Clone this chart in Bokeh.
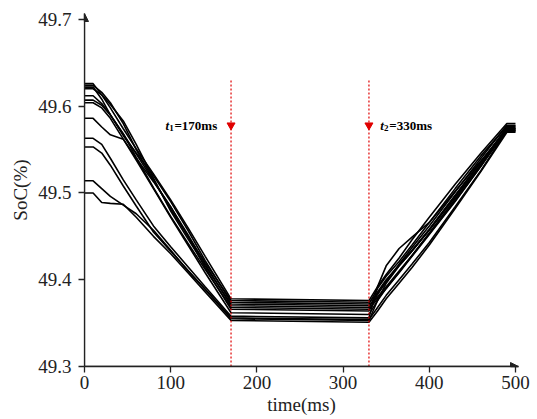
from bokeh.plotting import figure
from bokeh.models import Range1d, FixedTicker, Arrow, NormalHead, Label
from bokeh.embed import file_html
from bokeh.resources import INLINE

# ---- data ----
time_ms = [0, 10, 20, 30, 45, 60, 80, 100, 120, 140, 170,
           330, 340, 350, 365, 380, 400, 430, 460, 490, 500]

soc_1 = [49.626, 49.626, 49.613, 49.598, 49.574, 49.551, 49.522, 49.492, 49.460, 49.427, 49.378,
         49.376, 49.392, 49.406, 49.425, 49.446, 49.472, 49.510, 49.546, 49.580, 49.580]
soc_2 = [49.624, 49.624, 49.616, 49.604, 49.580, 49.550, 49.515, 49.481, 49.450, 49.420, 49.376,
         49.374, 49.384, 49.398, 49.418, 49.437, 49.462, 49.501, 49.540, 49.578, 49.578]
soc_3 = [49.622, 49.622, 49.608, 49.590, 49.566, 49.546, 49.520, 49.490, 49.457, 49.422, 49.374,
         49.372, 49.390, 49.404, 49.421, 49.440, 49.466, 49.505, 49.543, 49.577, 49.577]
soc_4 = [49.620, 49.620, 49.613, 49.602, 49.583, 49.556, 49.517, 49.479, 49.447, 49.416, 49.372,
         49.370, 49.380, 49.392, 49.410, 49.428, 49.454, 49.493, 49.533, 49.576, 49.576]
soc_5 = [49.612, 49.612, 49.603, 49.590, 49.568, 49.545, 49.514, 49.484, 49.452, 49.418, 49.370,
         49.368, 49.386, 49.400, 49.417, 49.434, 49.458, 49.497, 49.536, 49.575, 49.575]
soc_6 = [49.607, 49.607, 49.601, 49.590, 49.568, 49.541, 49.506, 49.473, 49.442, 49.412, 49.368,
         49.366, 49.378, 49.390, 49.408, 49.427, 49.452, 49.490, 49.531, 49.574, 49.574]
soc_7 = [49.604, 49.604, 49.598, 49.586, 49.562, 49.540, 49.513, 49.484, 49.450, 49.414, 49.366,
         49.364, 49.383, 49.398, 49.416, 49.433, 49.458, 49.497, 49.536, 49.574, 49.574]
soc_8 = [49.586, 49.586, 49.576, 49.567, 49.562, 49.538, 49.505, 49.472, 49.440, 49.408, 49.362,
         49.360, 49.376, 49.390, 49.409, 49.428, 49.453, 49.491, 49.531, 49.573, 49.573]
soc_9 = [49.563, 49.563, 49.556, 49.540, 49.515, 49.492, 49.462, 49.438, 49.415, 49.392, 49.358,
         49.356, 49.392, 49.416, 49.436, 49.449, 49.466, 49.502, 49.537, 49.572, 49.572]
soc_10 = [49.553, 49.553, 49.546, 49.532, 49.508, 49.485, 49.455, 49.433, 49.411, 49.389, 49.356,
          49.354, 49.368, 49.382, 49.400, 49.418, 49.443, 49.484, 49.526, 49.572, 49.572]
soc_11 = [49.514, 49.514, 49.505, 49.496, 49.486, 49.476, 49.457, 49.434, 49.410, 49.389, 49.355,
          49.353, 49.376, 49.396, 49.416, 49.433, 49.457, 49.495, 49.533, 49.571, 49.571]
soc_12 = [49.500, 49.500, 49.489, 49.488, 49.487, 49.472, 49.450, 49.430, 49.408, 49.386, 49.353,
          49.351, 49.364, 49.378, 49.396, 49.414, 49.440, 49.482, 49.525, 49.570, 49.570]

all_series = [soc_1, soc_2, soc_3, soc_4, soc_5, soc_6, soc_7, soc_8, soc_9, soc_10, soc_11, soc_12]

event_times = [170, 330]
event_names = ["1", "2"]
event_texts = ["=170ms", "=330ms"]

x_ticks = [0, 100, 200, 300, 400, 500]
y_ticks = [49.3, 49.4, 49.5, 49.6, 49.7]

FONT = "Liberation Serif"
X_END = 503.5
Y_END = 49.7068

p = figure(width=537, height=419, output_backend="svg", toolbar_location=None,
           x_range=Range1d(0, X_END), y_range=Range1d(49.3, Y_END),
           min_border_left=84, min_border_right=19, min_border_top=13, min_border_bottom=53)
p.outline_line_color = None
p.xgrid.visible = False
p.ygrid.visible = False
p.background_fill_color = "white"
p.border_fill_color = "white"

for ax in (p.xaxis[0], p.yaxis[0]):
    ax.axis_line_color = "#222222"
    ax.axis_line_width = 1.3
    ax.major_tick_line_color = "#222222"
    ax.major_tick_line_width = 1.3
    ax.major_tick_in = 0
    ax.major_tick_out = 6
    ax.minor_tick_line_color = None
    ax.major_label_text_font = FONT
    ax.major_label_text_font_size = "19px"
    ax.major_label_text_color = "#222222"
    ax.axis_label_text_font = FONT
    ax.axis_label_text_font_size = "19px"
    ax.axis_label_text_font_style = "normal"
    ax.axis_label_text_color = "#222222"

p.xaxis.ticker = FixedTicker(ticks=x_ticks)
p.yaxis.ticker = FixedTicker(ticks=y_ticks)
p.xaxis.axis_label = "time(ms)"
p.yaxis.axis_label = "SoC(%)"
p.xaxis.major_label_standoff = 3
p.xaxis.axis_label_standoff = 2
p.yaxis.major_label_standoff = 7
p.yaxis.axis_label_standoff = 4

# axis arrows
p.add_layout(Arrow(end=NormalHead(size=8, fill_color="#222222", line_color="#222222"),
                   x_start=0, y_start=49.3, x_end=0, y_end=Y_END,
                   line_color="#222222", line_width=1.3))
p.add_layout(Arrow(end=NormalHead(size=8, fill_color="#222222", line_color="#222222"),
                   x_start=0, y_start=49.3, x_end=X_END, y_end=49.3,
                   line_color="#222222", line_width=1.3))

# curves
for s in all_series:
    p.line(time_ms, s, line_color="black", line_width=1.6)

# event markers
LINE_TOP = 49.632
ARROW_Y = 49.578
for t, n, txt in zip(event_times, event_names, event_texts):
    p.segment(x0=[t], y0=[49.3], x1=[t], y1=[LINE_TOP], line_color="#e00000",
              line_width=1.2, line_dash="2 2")
    p.scatter(x=[t], y=[ARROW_Y], marker="inverted_triangle", size=8,
              fill_color="#e00000", line_color="#e00000")
    base = -65.6 if n == "1" else 11.3
    p.add_layout(Label(x=t, y=ARROW_Y, x_offset=base, y_offset=0, text="t",
                       text_font=FONT, text_font_size="13px", text_font_style="bold italic",
                       text_baseline="middle", text_align="left", text_color="black"))
    p.add_layout(Label(x=t, y=ARROW_Y, x_offset=base + 3.8, y_offset=-3, text=n,
                       text_font=FONT, text_font_size="9px", text_font_style="bold",
                       text_baseline="middle", text_align="left", text_color="black"))
    p.add_layout(Label(x=t, y=ARROW_Y, x_offset=base + 9.0, y_offset=0, text=txt,
                       text_font=FONT, text_font_size="13px", text_font_style="bold",
                       text_baseline="middle", text_align="left", text_color="black"))

open("out.html", "w").write(file_html(p, INLINE))
